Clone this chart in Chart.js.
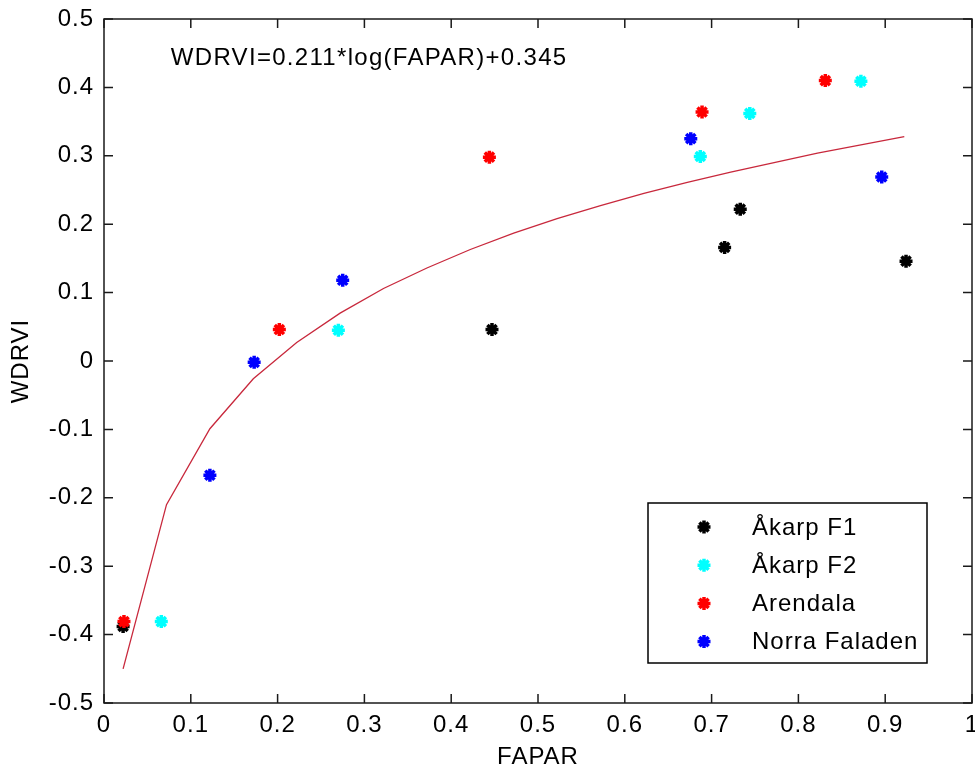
<!DOCTYPE html>
<html><head><meta charset="utf-8">
<script src="https://cdn.jsdelivr.net/npm/chart.js@4.4.0/dist/chart.umd.min.js"></script>
<style>html,body{margin:0;padding:0;background:#fff;}#wrap{position:relative;width:975px;height:774px;}</style>
</head><body><div id="wrap"><canvas id="c" width="975" height="774"></canvas></div>
<script>
// ---- data ----
const seriesNames = ['Åkarp F1', 'Åkarp F2', 'Arendala', 'Norra Faladen'];
const seriesColors = ['#000000', '#00ffff', '#ff0000', '#0000ff'];
const akarpF1_FAPAR = [0.022, 0.447, 0.715, 0.733, 0.924];
const akarpF1_WDRVI = [-0.388, 0.046, 0.166, 0.222, 0.146];
const akarpF2_FAPAR = [0.066, 0.270, 0.687, 0.744, 0.872];
const akarpF2_WDRVI = [-0.381, 0.045, 0.299, 0.362, 0.409];
const arendala_FAPAR = [0.023, 0.202, 0.444, 0.689, 0.831];
const arendala_WDRVI = [-0.381, 0.046, 0.298, 0.364, 0.410];
const norra_FAPAR = [0.122, 0.173, 0.275, 0.676, 0.896];
const norra_WDRVI = [-0.167, -0.002, 0.118, 0.325, 0.269];
// fitted curve as drawn (vertices)
const fitFAPAR = [0.022, 0.072, 0.122, 0.172, 0.222, 0.272, 0.322, 0.372, 0.422, 0.472, 0.522, 0.572, 0.622, 0.672, 0.722, 0.772, 0.822, 0.872, 0.922];
const fitWDRVI = [-0.450, -0.210, -0.099, -0.026, 0.027, 0.070, 0.106, 0.136, 0.163, 0.187, 0.208, 0.227, 0.245, 0.261, 0.276, 0.290, 0.304, 0.316, 0.328];
const equationText = 'WDRVI=0.211*log(FAPAR)+0.345';
const equationPos = [0.077, 0.442];
const xAxisTitle = 'FAPAR';
const yAxisTitle = 'WDRVI';
const xRange = [0, 1];
const yRange = [-0.5, 0.5];
const tickStep = 0.1;

const FAMILY = '"Liberation Sans", Arial, Helvetica, sans-serif';
const FSIZE = 24;
const FONT = FSIZE + 'px ' + FAMILY;

function pts(xs, ys) { return xs.map((x, i) => ({x: x, y: ys[i]})); }
const seriesX = [akarpF1_FAPAR, akarpF2_FAPAR, arendala_FAPAR, norra_FAPAR];
const seriesY = [akarpF1_WDRVI, akarpF2_WDRVI, arendala_WDRVI, norra_WDRVI];

const MARK = {pointStyle: 'star', radius: 6.5, borderWidth: 3.5, rotation: 0};

const datasets = seriesNames.map((name, i) => ({
  label: name,
  data: pts(seriesX[i], seriesY[i]),
  showLine: false,
  pointStyle: 'star',
  pointRadius: MARK.radius,
  pointHoverRadius: MARK.radius,
  pointBorderWidth: MARK.borderWidth,
  pointBorderColor: seriesColors[i],
  pointBackgroundColor: seriesColors[i],
  clip: false,
  order: 5 - i
}));
datasets.push({
  label: 'fit',
  data: pts(fitFAPAR, fitWDRVI),
  showLine: true,
  borderColor: '#c8283c',
  borderWidth: 1.3,
  pointRadius: 0,
  tension: 0,
  fill: false,
  order: 0
});

function fmt(v) { const r = Math.round(v * 10) / 10; return String(r); }

const matlabPlugin = {
  id: 'matlab',
  beforeDraw(chart) {
    const ctx = chart.ctx;
    ctx.letterSpacing = '1px';
    ctx.save();
    ctx.fillStyle = '#fff';
    ctx.fillRect(0, 0, chart.width, chart.height);
    ctx.restore();
  },
  afterDatasetsDraw(chart) {
    const ctx = chart.ctx, ca = chart.chartArea, xs = chart.scales.x, ys = chart.scales.y;
    ctx.save();
    ctx.strokeStyle = '#1a1a1a';
    ctx.lineWidth = 1.5;
    ctx.strokeRect(ca.left, ca.top, ca.right - ca.left, ca.bottom - ca.top);
    const L = 9;
    ctx.beginPath();
    xs.ticks.forEach(t => {
      const px = xs.getPixelForValue(t.value);
      ctx.moveTo(px, ca.bottom); ctx.lineTo(px, ca.bottom - L);
      ctx.moveTo(px, ca.top); ctx.lineTo(px, ca.top + L);
    });
    ys.ticks.forEach(t => {
      const py = ys.getPixelForValue(t.value);
      ctx.moveTo(ca.left, py); ctx.lineTo(ca.left + L, py);
      ctx.moveTo(ca.right, py); ctx.lineTo(ca.right - L, py);
    });
    ctx.stroke();
    ctx.restore();
  },
  afterDraw(chart) {
    const ctx = chart.ctx, xs = chart.scales.x, ys = chart.scales.y;
    ctx.save();
    ctx.letterSpacing = '1.3px';
    ctx.font = FONT;
    ctx.fillStyle = '#000';
    ctx.textAlign = 'left';
    ctx.textBaseline = 'middle';
    ctx.fillText(equationText, xs.getPixelForValue(equationPos[0]), ys.getPixelForValue(equationPos[1]));
    ctx.letterSpacing = '1px';
    // legend box
    const bx = 648, by = 503, bw = 279, bh = 160;
    ctx.fillStyle = '#fff';
    ctx.fillRect(bx, by, bw, bh);
    ctx.strokeStyle = '#000';
    ctx.lineWidth = 1.5;
    ctx.strokeRect(bx, by, bw, bh);
    seriesNames.forEach((name, i) => {
      const cy = by + 24 + i * 38.2;
      ctx.strokeStyle = seriesColors[i];
      ctx.fillStyle = seriesColors[i];
      ctx.lineWidth = MARK.borderWidth;
      Chart.helpers.drawPoint(ctx, MARK, 704, cy);
      ctx.fillStyle = '#000';
      ctx.fillText(name, 752, cy + 1);
    });
    ctx.restore();
  }
};

const tickFont = {family: FAMILY, size: FSIZE};
new Chart(document.getElementById('c'), {
  type: 'scatter',
  data: {datasets: datasets},
  options: {
    responsive: false,
    animation: false,
    devicePixelRatio: 1,
    layout: {autoPadding: false, padding: {left: 0, top: 19, right: 3, bottom: 0}},
    plugins: {legend: {display: false}, tooltip: {enabled: false}},
    scales: {
      x: {
        type: 'linear', min: xRange[0], max: xRange[1],
        border: {display: false},
        grid: {display: false, drawTicks: false},
        ticks: {stepSize: tickStep, padding: 8, color: '#000', font: tickFont, maxRotation: 0, autoSkip: false, callback: fmt},
        title: {display: true, text: xAxisTitle, color: '#000', font: tickFont, padding: {top: 0, bottom: 2}},
        afterFit(s) { s.height = 71; s.paddingLeft = 0; s.paddingRight = 0; }
      },
      y: {
        type: 'linear', min: yRange[0], max: yRange[1],
        border: {display: false},
        grid: {display: false, drawTicks: false},
        ticks: {stepSize: tickStep, padding: 10, color: '#000', font: tickFont, autoSkip: false, callback: fmt},
        title: {display: true, text: yAxisTitle, color: '#000', font: tickFont, padding: {top: 7, bottom: 0}},
        afterFit(s) { s.width = 104; s.paddingTop = 0; s.paddingBottom = 0; }
      }
    }
  },
  plugins: [matlabPlugin]
});
</script></body></html>
